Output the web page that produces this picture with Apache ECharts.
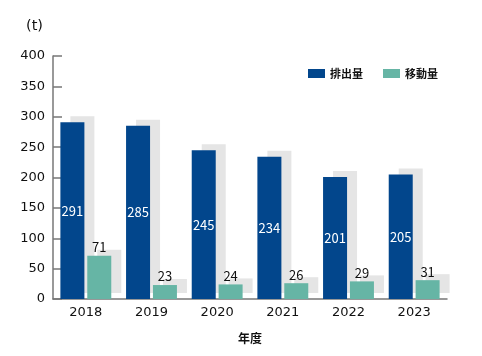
<!DOCTYPE html>
<html><head><meta charset="utf-8">
<script src="https://cdn.jsdelivr.net/npm/echarts@6/dist/echarts.min.js"></script>
<style>html,body{margin:0;padding:0;background:#fff}#c{width:482px;height:356px}</style>
</head><body><div id="c"></div>
<script>
var categories = ['2018','2019','2020','2021','2022','2023'];
var emission = [291, 285, 245, 234, 201, 205];
var transfer = [71, 23, 24, 26, 29, 31];
var seriesNames = ['排出量', '移動量'];
var yTicks = {min: 0, max: 400, interval: 50};

var FONT = '"Noto Sans CJK JP", "Noto Sans", sans-serif';
var LFONT = '"DejaVu Sans", "Noto Sans CJK JP", sans-serif';
var chart = echarts.init(document.getElementById('c'), null, {renderer: 'canvas'});
var shadow = {shadowColor: '#e5e5e5', shadowBlur: 0, shadowOffsetX: 10, shadowOffsetY: -6};
chart.setOption({
  animation: false,
  textStyle: {fontFamily: FONT},
  title: {text: '(t)', left: 26, top: 19, padding: 0, textStyle: {fontSize: 14.5, fontWeight: 'normal', color: '#111', fontFamily: LFONT}},
  legend: {
    data: seriesNames, right: 39, top: 63, itemWidth: 17, itemHeight: 9, itemGap: 20,
    icon: 'rect', textStyle: {fontSize: 11, fontWeight: 'bold', color: '#111', fontFamily: FONT}
  },
  grid: {left: 53, right: 35, top: 56, bottom: 57},
  xAxis: {
    type: 'category', data: categories,
    name: '年度', nameLocation: 'middle', nameGap: 33,
    nameTextStyle: {fontSize: 12, color: '#111', fontWeight: 'bold', fontFamily: FONT},
    axisLine: {lineStyle: {color: '#777', width: 1.5}},
    axisTick: {inside: true, length: 6, lineStyle: {color: '#777', width: 1.5}},
    axisLabel: {fontSize: 13, color: '#111', margin: 7, fontFamily: LFONT}
  },
  yAxis: {
    type: 'value', min: yTicks.min, max: yTicks.max, interval: yTicks.interval,
    axisLine: {show: true, lineStyle: {color: '#777', width: 1.5}},
    axisTick: {show: true, inside: true, length: 9, lineStyle: {color: '#777', width: 1.5}},
    splitLine: {show: false},
    axisLabel: {fontSize: 13, color: '#111', margin: 8, fontFamily: LFONT}
  },
  series: [
    {name: seriesNames[0], type: 'bar', data: emission, barWidth: 24, barGap: '12%',
     itemStyle: Object.assign({color: '#02468c'}, shadow),
     label: {show: true, position: 'inside', color: '#fff', fontSize: 13, fontFamily: FONT}},
    {name: seriesNames[1], type: 'bar', data: transfer, barWidth: 24, barGap: '12%',
     itemStyle: Object.assign({color: '#66b5a5'}, shadow),
     label: {show: true, position: 'top', distance: 2, color: '#111', fontSize: 13, fontFamily: FONT}}
  ]
});
</script></body></html>
